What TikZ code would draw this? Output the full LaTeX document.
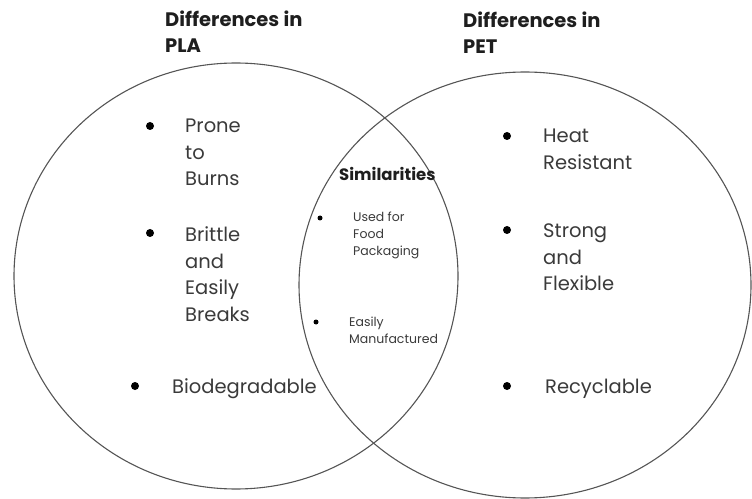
\documentclass[tikz,border=0pt]{standalone}
\usepackage{fontspec}
\setmainfont{Poppins}
\usetikzlibrary{positioning}
\definecolor{VennLine}{HTML}{555555}
\definecolor{VennText}{HTML}{3A3A3A}
\definecolor{VennHead}{HTML}{1E1E1E}
\newcommand{\stacklines}[1]{\begin{tabular}[t]{@{}l@{}}#1\end{tabular}}

\begin{document}
\begin{tikzpicture}[x=1bp, y=-1bp,
  ring/.style={draw=VennLine, line width=1.1bp},
  heading/.style={anchor=base west, inner sep=0, text=VennHead, font=\bfseries\fontsize{19.5bp}{25.5bp}\selectfont},
  item/.style={anchor=base west, inner sep=0, text=VennText, font=\fontsize{19.5bp}{26.5bp}\selectfont},
  smallhead/.style={anchor=base west, inner sep=0, text=VennHead, font=\bfseries\fontsize{16.5bp}{18bp}\selectfont},
  smallitem/.style={anchor=base west, inner sep=0, text=VennText, font=\fontsize{12.5bp}{17bp}\selectfont},
  bulletdot/.style={circle, fill=black, inner sep=0, minimum size=8bp},
  smalldot/.style={circle, fill=black, inner sep=0, minimum size=5bp}]
\useasboundingbox (0,0) rectangle (752,499);
% --- the two sets ---
\draw[ring] (236,276) ellipse [x radius=222, y radius=213];
\draw[ring] (525,285) ellipse [x radius=226, y radius=213];
% --- Headings ---
\node[heading] (pla) at (165,27) {\stacklines{Differences in\\PLA}};
\node[heading] (pet) at (463,28) {\stacklines{Differences in\\PET}};
% --- PLA only ---
\node[bulletdot] (d1) at (150,126) {};
\node[item] (burns) at (185,133) {\stacklines{Prone\\to\\Burns}};
\node[bulletdot] (d2) at (150,233) {};
\node[item] (brittle) at (185,242) {\stacklines{Brittle\\and\\Easily\\Breaks}};
\node[bulletdot] (d3) at (135,386) {};
\node[item] (bio) at (172,393) {Biodegradable};
% --- PET only ---
\node[bulletdot] (d4) at (507,136) {};
\node[item] (heat) at (543,143) {\stacklines{Heat\\Resistant}};
\node[bulletdot] (d5) at (507,230) {};
\node[item] (strong) at (543,238) {\stacklines{Strong\\and\\Flexible}};
\node[bulletdot] (d6) at (507,386) {};
\node[item] (recycle) at (545,393) {Recyclable};
% --- overlap ---
\node[smallhead] (sim) at (339,181) {Similarities};
\node[smalldot] (s1) at (320,218) {};
\node[smallitem] (food) at (353,222) {\stacklines{Used for\\Food\\Packaging}};
\node[smalldot] (s2) at (316,322) {};
\node[smallitem] (made) at (349,326) {\stacklines{Easily\\Manufactured}};
\end{tikzpicture}
\end{document}
